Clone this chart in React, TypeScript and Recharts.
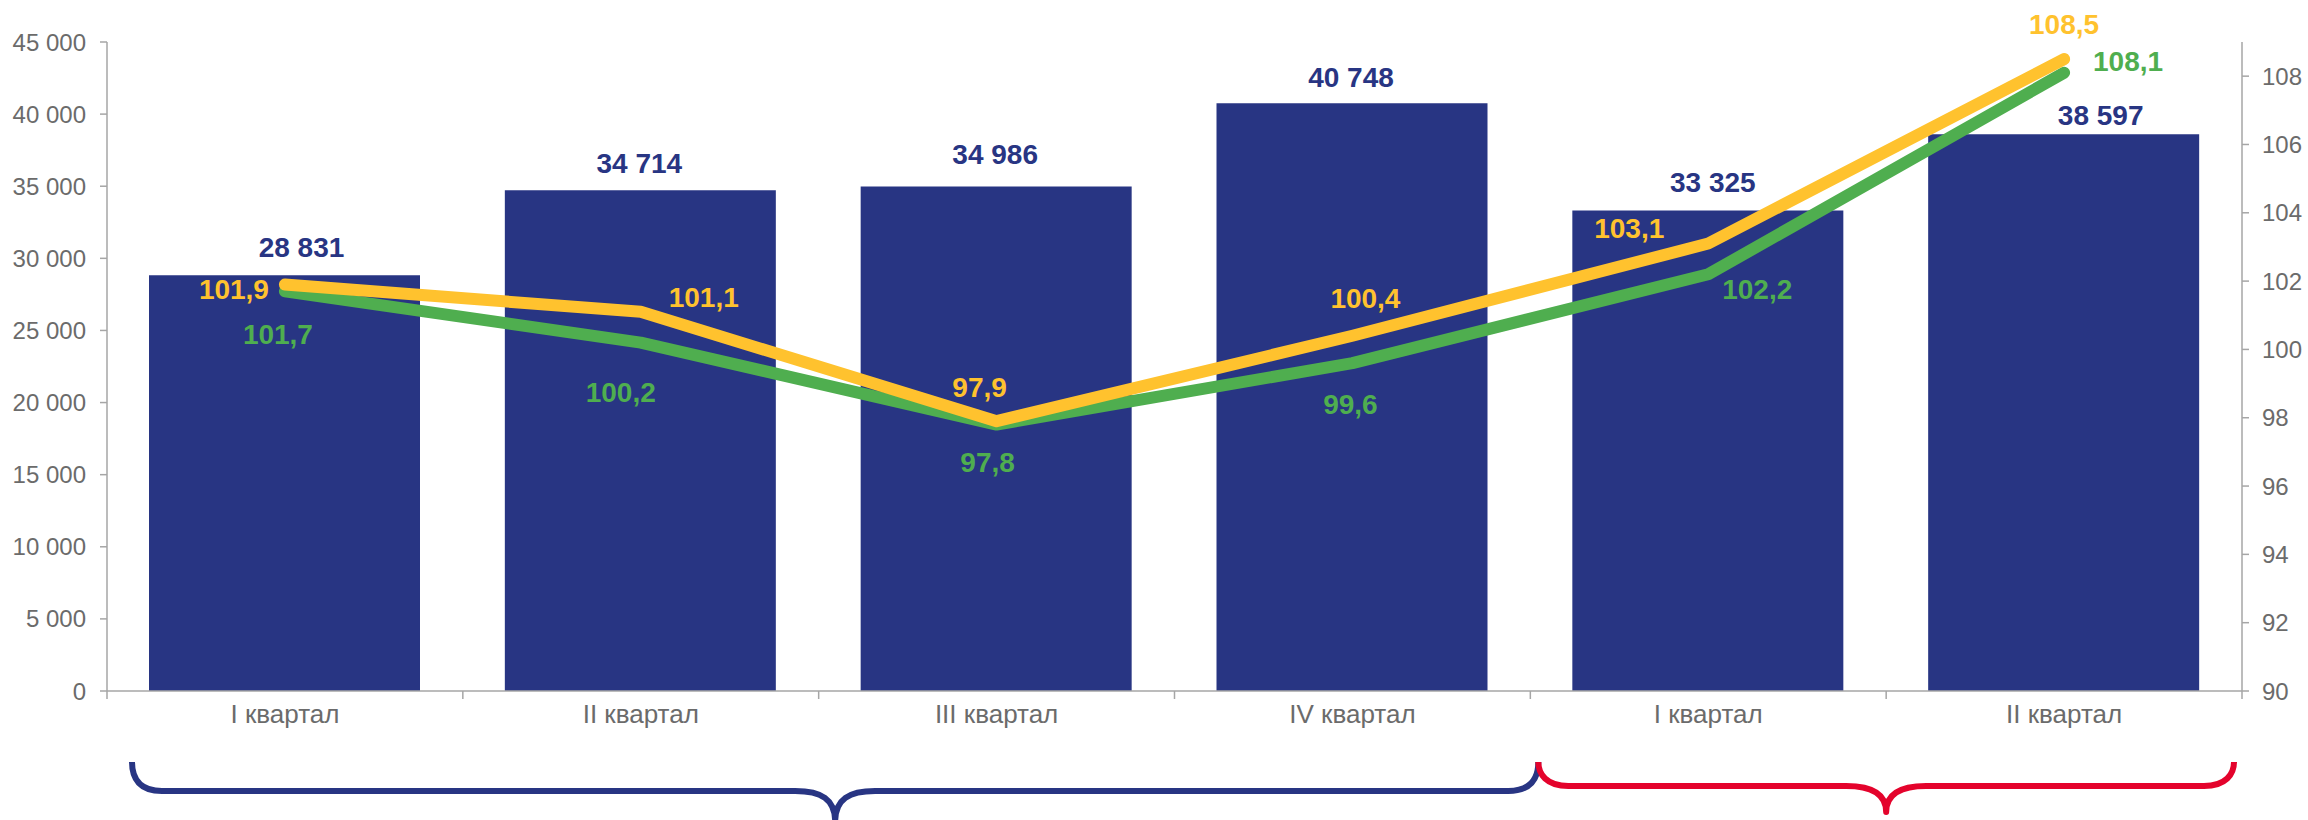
import React from 'react'
import { ComposedChart, Bar, Line, XAxis, YAxis, LabelList } from 'recharts'

// quarterly data
const quarters = ['I квартал', 'II квартал', 'III квартал', 'IV квартал', 'I квартал', 'II квартал']
const volume = [28831, 34714, 34986, 40748, 33325, 38597]
const indexYellow = [101.9, 101.1, 97.9, 100.4, 103.1, 108.5]
const indexGreen = [101.7, 100.2, 97.8, 99.6, 102.2, 108.1]
const leftTicks = [0, 5000, 10000, 15000, 20000, 25000, 30000, 35000, 40000, 45000]
const rightTicks = [90, 92, 94, 96, 98, 100, 102, 104, 106, 108]

const data = quarters.map((q, i) => ({
  quarter: q,
  volume: volume[i],
  yellow: indexYellow[i],
  green: indexGreen[i],
}))

const W = 2308
const H = 820
const PLOT_LEFT = 107
const PLOT_RIGHT = 2242
const PLOT_TOP = 42
const AXIS_Y = 691
const BAND = (PLOT_RIGHT - PLOT_LEFT) / quarters.length

const NAVY = '#283583'
const YELLOW = '#FFC22E'
const GREEN = '#4FAE4F'
const RED = '#E4032C'
const GREY_TEXT = '#6b6b6b'
const GREY_LINE = '#a6a6a6'
const FONT = "'Liberation Sans', Arial, sans-serif"

// label nudges (centre of text relative to the anchor point), hand placed like in the original
const barLabelShift = [[17, -28], [-1, -27], [-1, -32], [-1, -26], [5, -28], [37, -19]]
const yellowLabelShift = [[-51, 4], [63, -15], [-17, -34], [13, -38], [-79, -16], [0, -35]]
const greenLabelShift = [[-7, 43], [-20, 49], [-9, 37], [-2, 41], [49, 15], [64, -12]]

const spaced = (v: number) => String(v).replace(/\B(?=(\d{3})+(?!\d))/g, ' ')
const comma = (v: number) => v.toFixed(1).replace('.', ',')

const BarValueLabel = (props: any) => {
  const { x, y, width, value, index } = props
  const [dx, dy] = barLabelShift[index] || [0, -20]
  return (
    <text
      x={Number(x) + Number(width) / 2 + dx}
      y={Number(y) + dy + 10}
      textAnchor="middle"
      fill={NAVY}
      fontFamily={FONT}
      fontWeight="bold"
      fontSize={28}
    >
      {spaced(Number(value))}
    </text>
  )
}

const makeLineLabel = (shift: number[][], color: string) => (props: any) => {
  const { x, y, value, index } = props
  const [dx, dy] = shift[index] || [0, -20]
  return (
    <text
      x={Number(x) + dx}
      y={Number(y) + dy + 10}
      textAnchor="middle"
      fill={color}
      fontFamily={FONT}
      fontWeight="bold"
      fontSize={28}
    >
      {comma(Number(value))}
    </text>
  )
}

const QuarterTick = (props: any) => {
  const { x, payload, index } = props
  const left = x - BAND / 2
  return (
    <g>
      <line x1={left} x2={left} y1={AXIS_Y} y2={AXIS_Y + 8} stroke={GREY_LINE} strokeWidth={1.5} />
      {index === quarters.length - 1 && (
        <line x1={x + BAND / 2} x2={x + BAND / 2} y1={AXIS_Y} y2={AXIS_Y + 8} stroke={GREY_LINE} strokeWidth={1.5} />
      )}
      <text x={x} y={AXIS_Y + 14} dy="0.71em" textAnchor="middle" fill={GREY_TEXT} fontFamily={FONT} fontSize={26}>
        {payload.value}
      </text>
    </g>
  )
}

// curly braces under the axis: 2023 (four quarters) and 2024 (two quarters)
const Brace = ({ x1, x2, y, top, tip, color }: { x1: number; x2: number; y: number; top: number; tip: number; color: string }) => {
  const mid = (x1 + x2) / 2
  const r = 30
  const d = [
    `M ${x1} ${top}`,
    `C ${x1} ${y - 12}, ${x1 + 8} ${y}, ${x1 + r} ${y}`,
    `L ${mid - 40} ${y}`,
    `C ${mid - 14} ${y}, ${mid} ${y + 8}, ${mid} ${tip}`,
    `C ${mid} ${y + 8}, ${mid + 14} ${y}, ${mid + 40} ${y}`,
    `L ${x2 - r} ${y}`,
    `C ${x2 - 8} ${y}, ${x2} ${y - 12}, ${x2} ${top}`,
  ].join(' ')
  return <path d={d} fill="none" stroke={color} strokeWidth={6} strokeLinejoin="round" />
}

export default function App() {
  return (
    <div style={{ position: 'absolute', left: 0, top: 0, width: W, height: H, background: '#fff' }}>
      <ComposedChart
        width={W}
        height={H}
        data={data}
        margin={{ top: PLOT_TOP, right: 0, left: 0, bottom: 0 }}
      >
        <XAxis
          dataKey="quarter"
          height={H - AXIS_Y}
          axisLine={{ stroke: GREY_LINE, strokeWidth: 1.5 }}
          tickLine={false}
          tick={<QuarterTick />}
          interval={0}
        />
        <YAxis
          yAxisId="left"
          width={PLOT_LEFT}
          domain={[0, 45000]}
          ticks={leftTicks}
          interval={0}
          tickFormatter={(v: number) => spaced(v)}
          axisLine={{ stroke: GREY_LINE, strokeWidth: 1.5 }}
          tickLine={{ stroke: GREY_LINE, strokeWidth: 1.5 }}
          tickSize={7}
          tickMargin={14}
          tick={{ fill: GREY_TEXT, fontSize: 24, fontFamily: FONT }}
        />
        <YAxis
          yAxisId="right"
          orientation="right"
          width={W - PLOT_RIGHT}
          domain={[90, 109]}
          ticks={rightTicks}
          interval={0}
          axisLine={{ stroke: GREY_LINE, strokeWidth: 1.5 }}
          tickLine={{ stroke: GREY_LINE, strokeWidth: 1.5 }}
          tickSize={7}
          tickMargin={13}
          tick={{ fill: GREY_TEXT, fontSize: 24, fontFamily: FONT, textAnchor: 'start' }}
        />
        <Bar yAxisId="left" dataKey="volume" name="Объём" fill={NAVY} barSize={271} isAnimationActive={false}>
          <LabelList dataKey="volume" content={BarValueLabel} />
        </Bar>
        <Line
          yAxisId="right"
          type="linear"
          dataKey="green"
          name="Индекс (зелёный)"
          stroke={GREEN}
          strokeWidth={12}
          strokeLinecap="round"
          strokeLinejoin="round"
          dot={false}
          activeDot={false}
          isAnimationActive={false}
        >
          <LabelList dataKey="green" content={makeLineLabel(greenLabelShift, GREEN)} />
        </Line>
        <Line
          yAxisId="right"
          type="linear"
          dataKey="yellow"
          name="Индекс (жёлтый)"
          stroke={YELLOW}
          strokeWidth={12}
          strokeLinecap="round"
          strokeLinejoin="round"
          dot={false}
          activeDot={false}
          isAnimationActive={false}
        >
          <LabelList dataKey="yellow" content={makeLineLabel(yellowLabelShift, YELLOW)} />
        </Line>
      </ComposedChart>
      <svg width={W} height={H} style={{ position: 'absolute', left: 0, top: 0, pointerEvents: 'none' }}>
        <Brace x1={132} x2={PLOT_LEFT + BAND * 4 + 8} y={791} top={762} tip={822} color={NAVY} />
        <Brace x1={PLOT_LEFT + BAND * 4 + 8} x2={2234} y={786} top={762} tip={812} color={RED} />
      </svg>
    </div>
  )
}
